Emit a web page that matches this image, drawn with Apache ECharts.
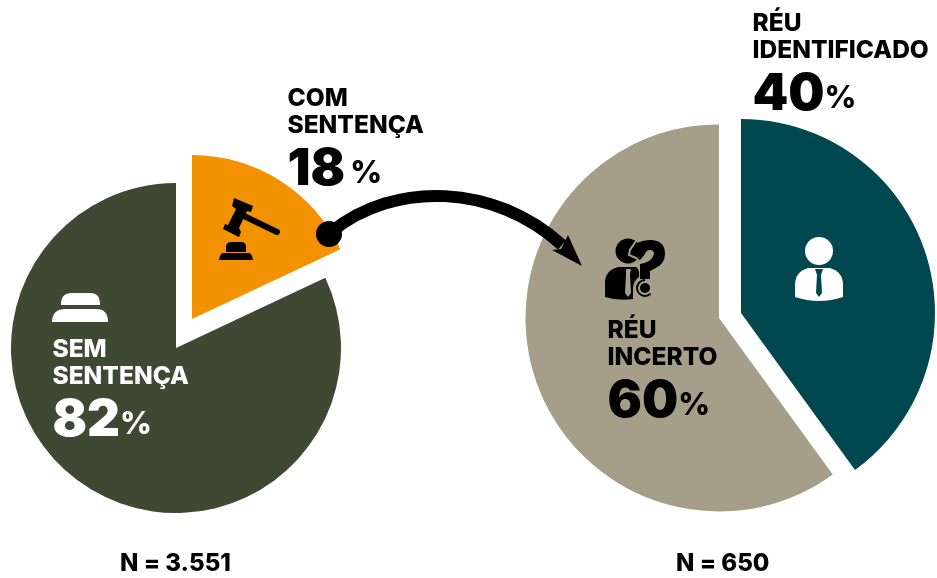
<!DOCTYPE html>
<html>
<head>
	<meta charset="UTF-8">
	<title>Sentenças e réus</title>
	<script src="https://cdn.jsdelivr.net/npm/echarts@6/dist/echarts.min.js"></script>
	<style>
		html, body { margin: 0; padding: 0; background: #fff; }
		#main { width: 937px; height: 578px; }
	</style>
</head>
<body>
	<div id="main"></div>
	<script>
		// dados
		var sentencaNomes = ['COM\nSENTENÇA', 'SEM\nSENTENÇA'];
		var sentencaValores = [18, 82];
		var reuNomes = ['RÉU\nIDENTIFICADO', 'RÉU\nINCERTO'];
		var reuValores = [40, 60];
		var totais = ['N = 3.551', 'N = 650'];

		var orange = '#f39200', darkGreen = '#3e4832', teal = '#00474f', tan = '#a59e88';
		var font = 'Inter';

		var chart = echarts.init(document.getElementById('main'), null, { renderer: 'canvas' });

		// o componente graphic nao aceita 'path', entao registra cada icone como shape
		var nPath = 0;
		function icone(d, cor, z) {
			var nome = 'icone' + (nPath++);
			echarts.graphic.registerShape(nome, echarts.graphic.extendPath(d, {}));
			return { type: nome, z: z || 10, style: { fill: cor } };
		}

		// cada fatia e um pie proprio porque os centros sao deslocados
		function fatia(nomes, valores, idx, cor, cx, cy, r) {
			return {
				type: 'pie',
				center: [cx, cy],
				radius: [0, r],
				startAngle: 90,
				silent: true,
				animation: false,
				label: { show: false },
				labelLine: { show: false },
				data: valores.map(function (v, i) {
					return {
						name: nomes[i],
						value: v,
						itemStyle: { color: i === idx ? cor : 'transparent' }
					};
				})
			};
		}

		function rotulo(nome, valor, x, y, cor, gap) {
			return [
				{
					type: 'text', left: x, top: y, z: 10,
					style: { text: nome, fill: cor, font: '800 24.5px ' + font, lineHeight: 27 }
				},
				{
					type: 'text', left: x, top: y + 59, z: 10,
					style: {
						text: '{n|' + valor + '}{p|%}',
						fill: cor,
						rich: {
							n: { font: '900 51px ' + font, fill: cor, lineHeight: 56 },
							p: { font: '800 31px ' + font, fill: cor, lineHeight: 56, padding: [9, 0, 0, gap] }
						}
					}
				}
			];
		}

		var iconeMartelo = [
			icone('M234 198 L253 206 L251 212 L247 211 L239 228 L241 232 L239 237 L223 229 L225 224 L228 225 L236 209 L232 206 Z', '#000'),
			{ type: 'line', z: 10, shape: { x1: 244, y1: 216, x2: 277, y2: 232 }, style: { stroke: '#000', lineWidth: 6, lineCap: 'round' } },
			icone('M226 252 L226 247 Q226 242 232 242 L241 242 Q246 242 246 247 L246 252 Z M222 253 L250 253 Q253 256 253 260 L219 260 Q219 256 222 253 Z', '#000')
		];
		var iconeSem = [
			icone('M61 304 Q61 293 72 293 L90 293 Q100 293 100 304 L100 305 L61 305 Z M52 322 Q52 309 66 309 L96 309 Q108 309 108 322 L52 322 Z', '#fff')
		];
		var iconePessoa = [
			{ type: 'circle', z: 10, shape: { cx: 819, cy: 251, r: 14 }, style: { fill: '#fff' } },
			icone('M795 297 L795 285 Q795 272 808 268 L830 268 Q843 272 843 285 L843 297 Q819 305 795 297 Z', '#fff'),
			icone('M815 269 L823 269 L821 275 L822 293 L819 297 L816 293 L817 275 Z', teal, 11)
		];
		var iconeIncerto = [
			{ type: 'circle', z: 10, shape: { cx: 628, cy: 251, r: 12.5 }, style: { fill: '#000' } },
			icone('M631 250 Q636 240 650 240 Q665 240 665 254 Q665 264 654 269 L650 271 L650 279 L640 279 L640 264 Q652 262 654 254 Q654 250 650 250 Q646 250 645 254 L640 260 L632 256 Z', '#000'),
			icone('M605 297 L605 281 Q606 270 618 267 L636 267 Q638 268 639 272 L639 277 Q633 281 633 289 L633 299 Q618 301 605 297 Z', '#000'),
			icone('M626 269 L631 269 L630 274 L631 293 L628 297 L625 293 L626 274 Z', tan, 11),
			{ type: 'polyline', z: 11, shape: { points: [[636, 241], [630, 250], [629, 255], [638, 259]] }, style: { fill: 'none', stroke: tan, lineWidth: 2 } },
			{ type: 'circle', z: 10, shape: { cx: 645, cy: 288, r: 5 }, style: { fill: '#000' } },
			{ type: 'arc', z: 10, shape: { cx: 645, cy: 288, r: 8, startAngle: 0.25 * Math.PI, endAngle: 1.5 * Math.PI, clockwise: true }, style: { fill: 'none', stroke: '#000', lineWidth: 2 } }
		];

		var seta = [
			{ type: 'circle', z: 12, shape: { cx: 329, cy: 234, r: 13 }, style: { fill: '#000' } },
			{ type: 'bezierCurve', z: 12, shape: { x1: 331, y1: 232, cpx1: 395, cpy1: 180, cpx2: 495, cpy2: 184, x2: 562, y2: 245 }, style: { fill: 'none', stroke: '#000', lineWidth: 12 } },
			{ type: 'polygon', z: 12, shape: { points: [[582, 266], [552, 250], [561, 249], [568, 235]] }, style: { fill: '#000' } }
		];

		var graficos = [].concat(
			rotulo(sentencaNomes[0], sentencaValores[0], 287.5, 85, '#000', 5),
			rotulo(sentencaNomes[1], sentencaValores[1], 52.5, 336, '#fff', 0),
			rotulo(reuNomes[0], reuValores[0], 752.5, 10, '#000', 0),
			rotulo(reuNomes[1], reuValores[1], 607.5, 317, '#000', 0),
			iconeMartelo, iconeSem, iconePessoa, iconeIncerto, seta,
			[
				{ type: 'text', left: 120, top: 552, z: 10, style: { text: totais[0], fill: '#000', font: '800 24px ' + font } },
				{ type: 'text', left: 676, top: 552, z: 10, style: { text: totais[1], fill: '#000', font: '800 24px ' + font } }
			]
		);

		chart.setOption({
			backgroundColor: '#fff',
			animation: false,
			tooltip: { show: false },
			series: [
				fatia(sentencaNomes, sentencaValores, 1, darkGreen, 176, 348, 165),
				fatia(sentencaNomes, sentencaValores, 0, orange, 192, 319, 164),
				fatia(reuNomes, reuValores, 1, tan, 719, 318, 193.5),
				fatia(reuNomes, reuValores, 0, teal, 741, 313, 194)
			],
			graphic: graficos
		});
	</script>
</body>
</html>
